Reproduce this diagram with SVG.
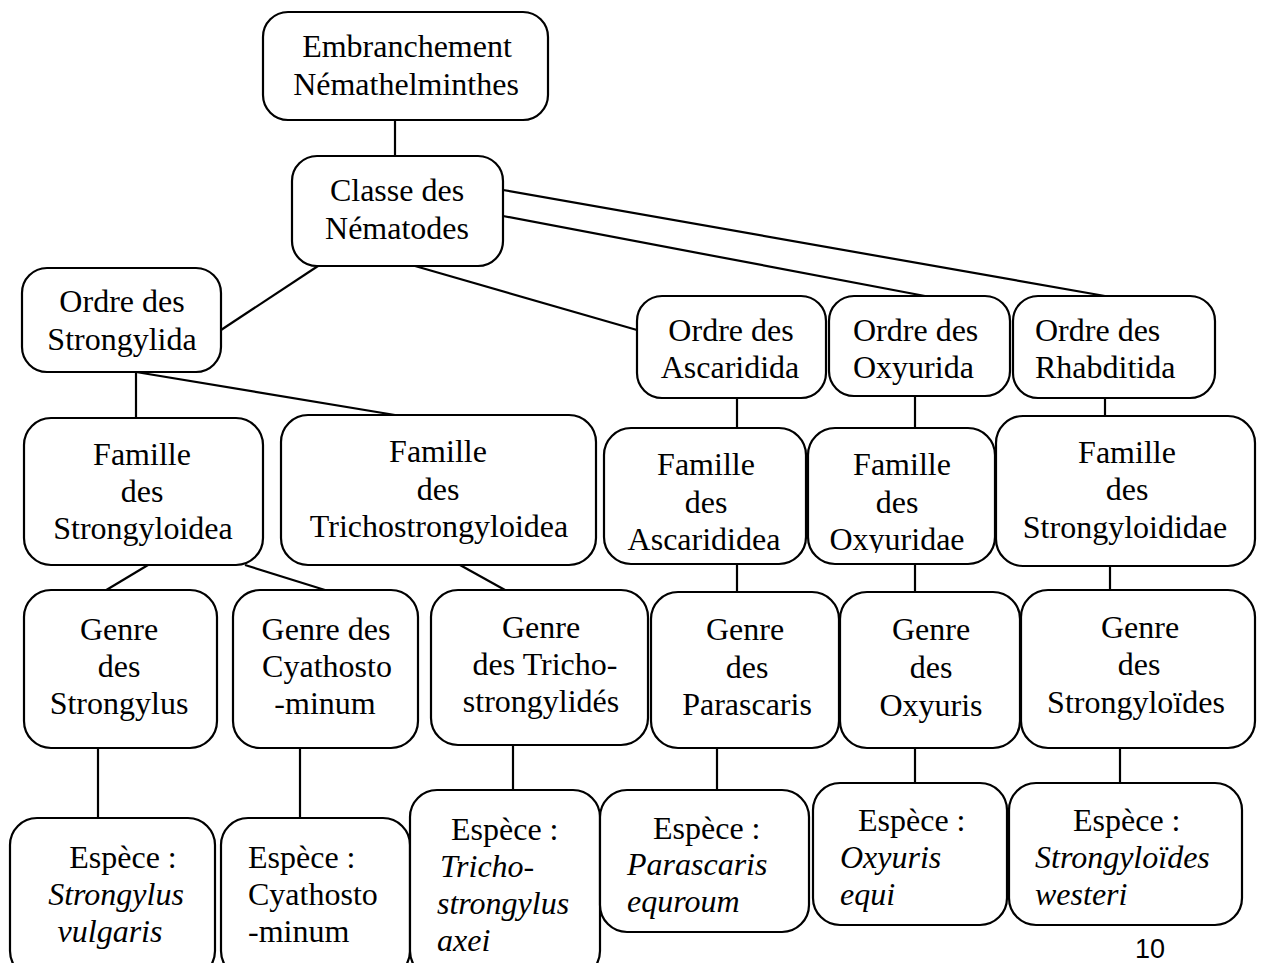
<svg xmlns="http://www.w3.org/2000/svg" width="1263" height="963" viewBox="0 0 1263 963">
<style>
.box{fill:#fff;stroke:#000;stroke-width:2.2}
.t{font-family:'Liberation Serif','Times New Roman','DejaVu Serif',serif;font-size:32px;fill:#000;text-anchor:middle}
.l{text-anchor:start}
.i{font-style:italic}
.c line{stroke:#000;stroke-width:2.2}
</style>
<defs>
<clipPath id="clipOx"><rect x="800" y="420" width="200" height="133"/></clipPath>
</defs>
<rect width="1263" height="963" fill="#fff"/>
<g class="c" id="connectors">
<line x1="395" y1="120" x2="395" y2="156"/>
<line x1="503" y1="190" x2="1105" y2="296"/>
<line x1="503" y1="216" x2="925" y2="296"/>
<line x1="415" y1="266" x2="637" y2="330"/>
<line x1="318" y1="266" x2="221" y2="330"/>
<line x1="136" y1="372" x2="136" y2="418"/>
<line x1="136" y1="372" x2="395" y2="415"/>
<line x1="737" y1="398" x2="737" y2="428"/>
<line x1="915" y1="396" x2="915" y2="428"/>
<line x1="1105" y1="398" x2="1105" y2="416"/>
<line x1="148" y1="565" x2="103" y2="592"/>
<line x1="245" y1="565" x2="325" y2="590"/>
<line x1="460" y1="565" x2="505" y2="590"/>
<line x1="737" y1="564" x2="737" y2="592"/>
<line x1="915" y1="564" x2="915" y2="592"/>
<line x1="1110" y1="566" x2="1110" y2="590"/>
<line x1="98" y1="748" x2="98" y2="818"/>
<line x1="300" y1="748" x2="300" y2="818"/>
<line x1="513" y1="745" x2="513" y2="790"/>
<line x1="717" y1="748" x2="717" y2="790"/>
<line x1="915" y1="748" x2="915" y2="783"/>
<line x1="1120" y1="748" x2="1120" y2="783"/>
</g>
<g font-family="Liberation Serif, Times New Roman, DejaVu Serif, serif">
<g id="n-embranchement"><rect class="box" x="263" y="12" width="285" height="108" rx="25"/>
<text class="t" x="407" y="57">Embranchement</text><text class="t" x="406" y="95">Némathelminthes</text></g>
<g id="n-classe"><rect class="box" x="292" y="156" width="211" height="110" rx="25"/>
<text class="t" x="397" y="201">Classe des</text><text class="t" x="397" y="239">Nématodes</text></g>
<g id="n-strongylida"><rect class="box" x="22" y="268" width="199" height="104" rx="25"/>
<text class="t" x="122" y="312">Ordre des</text><text class="t" x="122" y="350">Strongylida</text></g>
<g id="n-ascaridida"><rect class="box" x="637" y="296" width="189" height="102" rx="25"/>
<text class="t" x="731" y="341">Ordre des</text><text class="t" x="730" y="378">Ascaridida</text></g>
<g id="n-oxyurida"><rect class="box" x="829" y="296" width="181" height="100" rx="25"/>
<text class="t l" x="853" y="341">Ordre des</text><text class="t l" x="853" y="378">Oxyurida</text></g>
<g id="n-rhabditida"><rect class="box" x="1013" y="296" width="202" height="102" rx="25"/>
<text class="t l" x="1035" y="341">Ordre des</text><text class="t l" x="1035" y="378">Rhabditida</text></g>
<g id="n-fam-strongyloidea"><rect class="box" x="24" y="418" width="239" height="147" rx="27"/>
<text class="t" x="142" y="465">Famille</text><text class="t" x="142" y="502">des</text><text class="t" x="143" y="539">Strongyloidea</text></g>
<g id="n-fam-tricho"><rect class="box" x="281" y="415" width="315" height="150" rx="27"/>
<text class="t" x="438" y="462">Famille</text><text class="t" x="438" y="500">des</text><text class="t" x="439" y="537">Trichostrongyloidea</text></g>
<g id="n-fam-ascarididea"><rect class="box" x="604" y="428" width="202" height="136" rx="27"/>
<text class="t" x="706" y="475">Famille</text><text class="t" x="706" y="513">des</text><text class="t" x="704" y="550">Ascarididea</text></g>
<g id="n-fam-oxyuridae"><rect class="box" x="808" y="428" width="187" height="136" rx="27"/>
<g clip-path="url(#clipOx)"><text class="t" x="902" y="475">Famille</text><text class="t" x="897" y="513">des</text><text class="t" x="897" y="550">Oxyuridae</text></g></g>
<g id="n-fam-strongyloididae"><rect class="box" x="996" y="416" width="259" height="150" rx="27"/>
<text class="t" x="1127" y="463">Famille</text><text class="t" x="1127" y="500">des</text><text class="t" x="1125" y="538">Strongyloididae</text></g>
<g id="n-genre-strongylus"><rect class="box" x="24" y="590" width="193" height="158" rx="27"/>
<text class="t" x="119" y="640">Genre</text><text class="t" x="119" y="677">des</text><text class="t" x="119" y="714">Strongylus</text></g>
<g id="n-genre-cyatho"><rect class="box" x="233" y="590" width="185" height="158" rx="27"/>
<text class="t" x="326" y="640">Genre des</text><text class="t" x="327" y="677">Cyathosto</text><text class="t" x="325" y="714">-minum</text></g>
<g id="n-genre-tricho"><rect class="box" x="431" y="590" width="217" height="155" rx="27"/>
<text class="t" x="541" y="638">Genre</text><text class="t" x="545" y="675">des Tricho-</text><text class="t" x="541" y="712">strongylidés</text></g>
<g id="n-genre-parascaris"><rect class="box" x="651" y="592" width="188" height="156" rx="27"/>
<text class="t" x="745" y="640">Genre</text><text class="t" x="747" y="678">des</text><text class="t" x="747" y="715">Parascaris</text></g>
<g id="n-genre-oxyuris"><rect class="box" x="840" y="592" width="180" height="156" rx="27"/>
<text class="t" x="931" y="640">Genre</text><text class="t" x="931" y="678">des</text><text class="t" x="931" y="716">Oxyuris</text></g>
<g id="n-genre-strongyloides"><rect class="box" x="1021" y="590" width="234" height="158" rx="27"/>
<text class="t" x="1140" y="638">Genre</text><text class="t" x="1139" y="675">des</text><text class="t" x="1136" y="713">Strongyloïdes</text></g>
<g id="n-esp-strongylus"><rect class="box" x="10" y="818" width="205" height="160" rx="27"/>
<text class="t" x="123" y="868">Espèce :</text><text class="t i" x="116" y="905">Strongylus</text><text class="t i" x="110" y="942">vulgaris</text></g>
<g id="n-esp-cyatho"><rect class="box" x="221" y="818" width="189" height="160" rx="27"/>
<text class="t l" x="248" y="868">Espèce :</text><text class="t l" x="248" y="905">Cyathosto</text><text class="t l" x="248" y="942">-minum</text></g>
<g id="n-esp-tricho"><rect class="box" x="410" y="790" width="190" height="188" rx="27"/>
<text class="t l" x="451" y="840">Espèce :</text><text class="t l i" x="440" y="877">Tricho-</text><text class="t l i" x="437" y="914">strongylus</text><text class="t l i" x="437" y="951">axei</text></g>
<g id="n-esp-parascaris"><rect class="box" x="600" y="790" width="209" height="142" rx="27"/>
<text class="t l" x="653" y="839">Espèce :</text><text class="t l i" x="627" y="875">Parascaris</text><text class="t l i" x="627" y="912">equroum</text></g>
<g id="n-esp-oxyuris"><rect class="box" x="813" y="783" width="194" height="142" rx="27"/>
<text class="t l" x="858" y="831">Espèce :</text><text class="t l i" x="840" y="868">Oxyuris</text><text class="t l i" x="840" y="905">equi</text></g>
<g id="n-esp-strongyloides"><rect class="box" x="1009" y="783" width="233" height="142" rx="27"/>
<text class="t l" x="1073" y="831">Espèce :</text><text class="t l i" x="1035" y="868">Strongyloïdes</text><text class="t l i" x="1035" y="905">westeri</text></g>
</g>
<text x="1150" y="958" font-family="Liberation Sans, Arial, sans-serif" font-size="27" text-anchor="middle">10</text>
</svg>
